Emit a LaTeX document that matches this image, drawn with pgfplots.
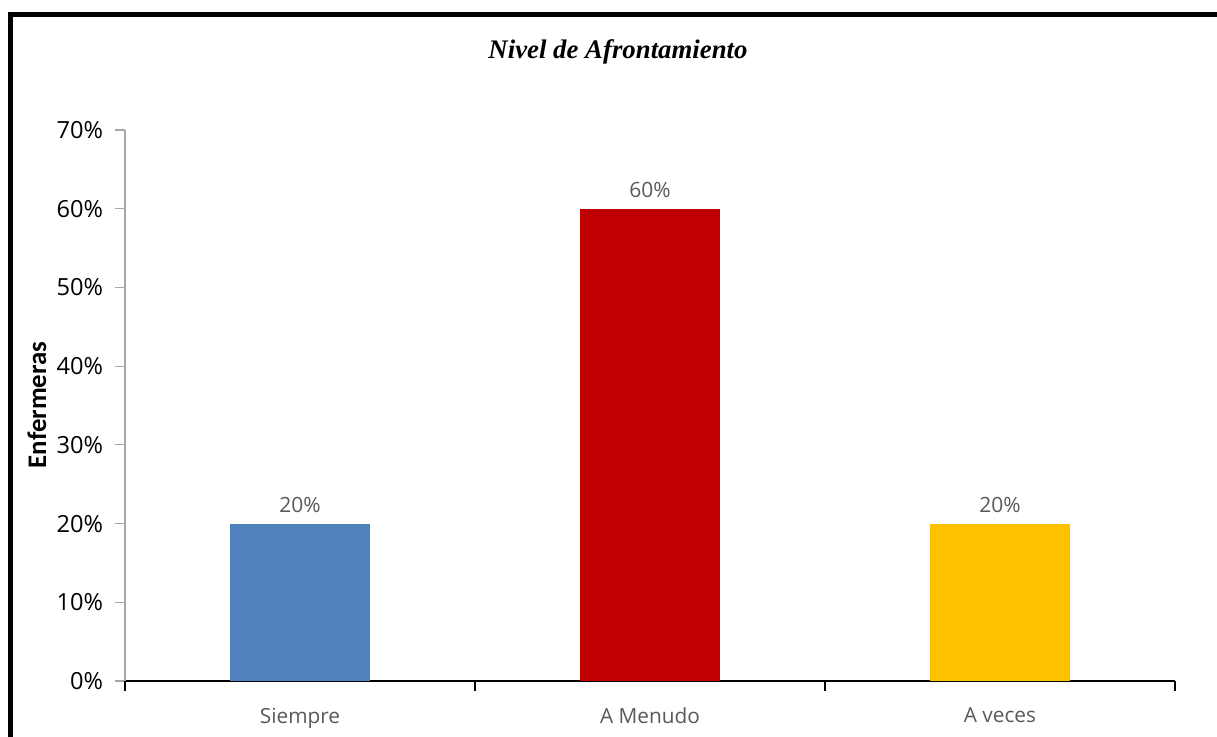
\documentclass[border=0pt]{standalone}
\usepackage{pgfplots}
\pgfplotsset{compat=1.18}
\usepackage{fontspec}
\setmainfont{Open Sans}
\newfontfamily\titlefont{Liberation Serif}
\newfontfamily\labfont{Carlito}
\definecolor{cblue}{HTML}{4F81BD}
\definecolor{cred}{HTML}{C00000}
\definecolor{cyellow}{HTML}{FFC000}
\definecolor{labgray}{HTML}{595959}
\definecolor{axgray}{HTML}{A6A6A6}
\begin{document}
\begin{tikzpicture}
\clip (0,0) rectangle (608.5pt,368pt);
\draw[line width=2.5pt] (5.25pt,-30pt) -- (5.25pt,360.75pt) -- (650pt,360.75pt);
\node[font=\titlefont\bfseries\itshape\fontsize{13.4}{15}\selectfont] at (309pt,342pt) {Nivel de Afrontamiento};
\node[font=\labfont\bfseries\fontsize{13.4}{15}\selectfont, rotate=90] at (18.5pt,165.5pt) {Enfermeras};
\begin{axis}[
  at={(62.5pt,27.5pt)}, anchor=south west,
  scale only axis, width=525pt, height=275.5pt,
  xmin=-0.5, xmax=2.5, ymin=0, ymax=70,
  axis lines*=left,
  x axis line style={black, line width=0.6pt},
  y axis line style={axgray, line width=0.6pt},
  ytick={0,10,...,70},
  yticklabel={\pgfmathprintnumber{\tick}\%},
  yticklabel style={font=\fontsize{11.8}{13}\selectfont, black, xshift=-2.5pt},
  ytick style={axgray, line width=0.6pt},
  xtick={0,1,2},
  xticklabels={Siempre, A Menudo, A veces},
  xticklabel style={font=\fontsize{10.4}{12}\selectfont, text=labgray, yshift=-5pt},
  xtick style={draw=none},
  extra x ticks={-0.5,0.5,1.5,2.5},
  extra x tick labels={},
  extra x tick style={xtick style={draw=black, line width=0.6pt}},
  tick align=outside,
  major tick length=5pt,
  /pgf/number format/assume math mode=true,
  ybar, bar width=0.4, bar shift=0pt,
  nodes near coords={\pgfmathprintnumber{\pgfplotspointmeta}\%},
  nodes near coords style={font=\fontsize{10.5}{12}\selectfont, text=labgray, yshift=2pt},
  every axis plot/.append style={draw=none},
]
\addplot[fill=cblue] coordinates {(0,20)};
\addplot[fill=cred] coordinates {(1,60)};
\addplot[fill=cyellow] coordinates {(2,20)};
\end{axis}
\end{tikzpicture}
\end{document}
